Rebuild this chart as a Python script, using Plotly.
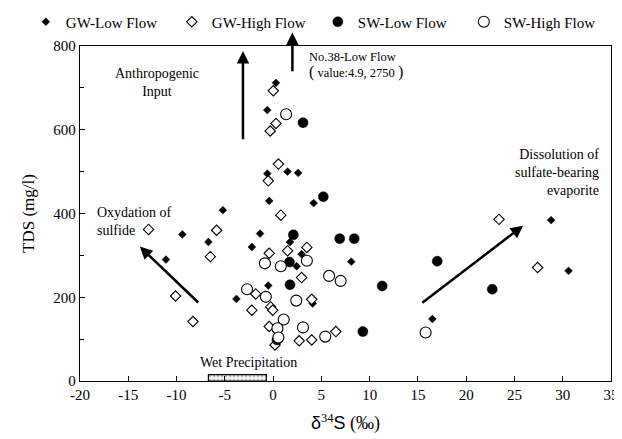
import plotly.graph_objects as go

# ---------------- data ----------------
gw_low_x = [0.3, -0.6, 1.5, 2.6, -0.6, 4.2, -0.4, -5.2, -9.4, -6.7, -1.35, -2.2, 1.75,
            2.95, 2.44, 8.1, -0.5, -3.8, 4.1, -11.1, 16.5, 28.8, 30.6]
gw_low_y = [712, 647, 500, 497, 495, 425, 430, 408, 350, 332, 352, 320, 332,
            303, 274, 285, 228, 196, 185, 290, 148, 384, 263]

gw_high_x = [0.02, 0.3, -0.3, 0.55, -0.5, 0.8, -5.85, -6.5, 3.5, -0.4, 1.5, 2.95, -1.8,
             4.0, -0.25, -0.04, -2.2, -8.3, -0.4, 0.2, 2.7, 4.0, 6.5, -12.9, -10.1, 23.4, 27.4]
gw_high_y = [693, 615, 597, 518, 478, 396, 360, 297, 319, 305, 311, 247, 208,
             195, 177, 169, 169, 142, 130, 86, 96, 98, 118, 362, 203, 386, 271]

sw_low_x = [3.1, 5.2, 2.1, 6.9, 8.4, 1.7, 1.75, 0.4, 9.3, 11.3, 17.0, 22.7]
sw_low_y = [617, 440, 349, 340, 340, 284, 230, 98, 118, 227, 286, 219]

sw_high_x = [1.35, 3.5, -0.85, 0.8, 5.8, 7.0, -2.7, -0.75, 2.4, 1.1, 0.45, 3.1, 0.55, 5.4, 15.8]
sw_high_y = [637, 287, 281, 274, 251, 239, 219, 201, 192, 147, 126, 128, 104, 106, 116]

wet_precip_x = [-6.7, -0.7]
wet_precip_y = [0, 15]

x_ticks = [-20, -15, -10, -5, 0, 5, 10, 15, 20, 25, 30, 35]
x_tick_labels = ["-20", "-15", "-10", "-5", "0", "5", "10", "15", "20", "25", "30", "35"]
y_ticks = [0, 200, 400, 600, 800]
y_tick_labels = ["0", "200", "400", "600", "800"]

SERIF = "Liberation Serif, Times New Roman, serif"

fig = go.Figure()

# wet precipitation box
fig.add_trace(go.Scatter(
    x=[wet_precip_x[0], wet_precip_x[1], wet_precip_x[1], wet_precip_x[0], wet_precip_x[0]],
    y=[wet_precip_y[0], wet_precip_y[0], wet_precip_y[1], wet_precip_y[1], wet_precip_y[0]],
    mode="lines", fill="toself", fillcolor="white",
    fillpattern=dict(shape=".", size=4, solidity=0.35, fgcolor="#888888", bgcolor="#f2f2f2"),
    line=dict(color="black", width=1.2), showlegend=False, hoverinfo="skip"))

fig.add_trace(go.Scatter(x=gw_low_x, y=gw_low_y, mode="markers", name="GW-Low Flow",
                         marker=dict(symbol="diamond", size=6, color="black",
                                     line=dict(color="black", width=0.5))))
fig.add_trace(go.Scatter(x=gw_high_x, y=gw_high_y, mode="markers", name="GW-High Flow",
                         marker=dict(symbol="diamond", size=8, color="white",
                                     line=dict(color="black", width=1.1))))
fig.add_trace(go.Scatter(x=sw_low_x, y=sw_low_y, mode="markers", name="SW-Low Flow",
                         marker=dict(symbol="circle", size=10, color="black",
                                     line=dict(color="black", width=0.5))))
fig.add_trace(go.Scatter(x=sw_high_x, y=sw_high_y, mode="markers", name="SW-High Flow",
                         marker=dict(symbol="circle", size=11, color="white",
                                     line=dict(color="black", width=1.1))))

def arrow(x, y, ax, ay, yref="y"):
    return dict(x=x, y=y, ax=ax, ay=ay, xref="x", yref=yref, axref="x", ayref=yref,
                text="", showarrow=True, arrowhead=2, arrowsize=1, arrowwidth=2.5,
                arrowcolor="black", standoff=0, startstandoff=0)

annotations = [
    arrow(-3.12, 788, -3.12, 574),
    arrow(2.0, 1.04, 2.0, 0.92, yref="y domain"),
    arrow(-13.8, 321, -7.6, 184),
    arrow(25.9, 371, 15.3, 184),
    dict(x=-12.0, y=714, xref="x", yref="y", text="Anthropogenic<br>Input", showarrow=False,
         font=dict(family=SERIF, size=14, color="black"), align="center"),
    dict(x=3.5, y=754, xref="x", yref="y",
         text="No.38-Low Flow<br><span style='font-size:16px'>(</span> value:4.9, 2750 <span style='font-size:16px'>)</span>",
         showarrow=False, xanchor="left", align="left",
         font=dict(family=SERIF, size=12.5, color="black")),
    dict(x=-18.45, y=380, xref="x", yref="y", text="Oxydation of<br>sulfide", showarrow=False,
         xanchor="left", align="left", font=dict(family=SERIF, size=14, color="black")),
    dict(x=33.96, y=497, xref="x", yref="y", text="Dissolution of<br>sulfate-bearing<br>evaporite",
         showarrow=False, xanchor="right", align="right",
         font=dict(family=SERIF, size=14, color="black")),
    dict(x=-7.8, y=45, xref="x", yref="y", text="Wet Precipitation", showarrow=False,
         xanchor="left", font=dict(family=SERIF, size=14, color="black")),
]

# the page body adds an 8 px margin, so the figure is drawn 8 px smaller
fig.update_layout(
    width=614, height=431,
    margin=dict(l=72, r=11, t=38, b=58, autoexpand=False),
    paper_bgcolor="white", plot_bgcolor="white",
    font=dict(family=SERIF, size=15, color="black"),
    showlegend=True,
    legend=dict(orientation="h", x=-0.102, y=1.0716, xanchor="left", yanchor="middle",
                entrywidth=101, entrywidthmode="pixels",
                font=dict(family=SERIF, size=15, color="black"),
                bgcolor="rgba(0,0,0,0)", itemclick=False),
    annotations=annotations,
    xaxis=dict(range=[-20, 35], tickvals=x_ticks, ticktext=x_tick_labels,
               ticks="inside", ticklen=5, tickwidth=1.2,
               tickcolor="black", showline=True, linecolor="black", linewidth=1.3, mirror=True,
               showgrid=False, zeroline=False, tickfont=dict(family=SERIF, size=15),
               title=dict(text="<span style='font-family:Liberation Sans'>δ</span><sup>34</sup><span style='font-family:Liberation Sans'>S</span> (‰)",
                          font=dict(family=SERIF, size=18), standoff=14)),
    yaxis=dict(range=[0, 800], tickvals=y_ticks, ticktext=y_tick_labels,
               ticks="inside", ticklen=5, tickwidth=1.2,
               tickcolor="black", showline=True, linecolor="black", linewidth=1.3, mirror=True,
               showgrid=False, zeroline=False, tickfont=dict(family=SERIF, size=15),
               minor=dict(dtick=100, ticks="inside", ticklen=4, tickcolor="black", showgrid=False),
               title=dict(text="TDS (mg/l)", font=dict(family=SERIF, size=17), standoff=14)),
)

fig.write_html("out.html")
